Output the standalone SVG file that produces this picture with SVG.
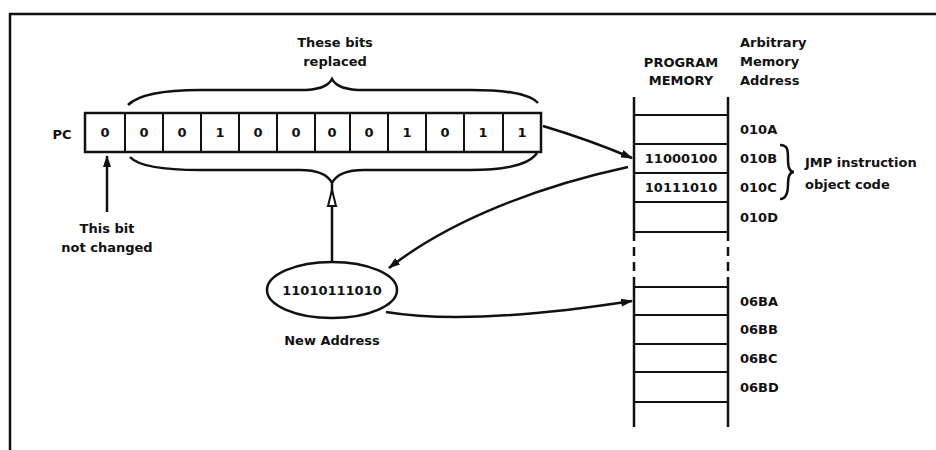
<svg xmlns="http://www.w3.org/2000/svg" width="936" height="450" viewBox="0 0 936 450">
<defs>
<style>
.t{font-family:"DejaVu Sans","Liberation Sans",sans-serif;font-size:13px;font-weight:bold;fill:#111}
.c{text-anchor:middle}
.ln{stroke:#111;stroke-width:2.5;fill:none}
.th{stroke:#111;stroke-width:2;fill:none}
.bx{fill:#fff;stroke:#111;stroke-width:2.5}
</style>
<marker id="ah" viewBox="0 0 12 8" refX="11" refY="4" markerWidth="12" markerHeight="8" markerUnits="userSpaceOnUse" orient="auto">
<path d="M0,0 L12,4 L0,8 Z" fill="#111"/>
</marker>
</defs>
<rect width="936" height="450" fill="#fff"/>
<!-- frame -->
<path d="M10,450 L10,14 L936,14" class="ln"/>

<g id="pc-register">
<text x="62" y="139" class="t c">PC</text>
<rect x="85" y="113" width="456" height="39" class="bx"/>
<g class="th">
<line x1="125" y1="113" x2="125" y2="152"/>
<line x1="163" y1="113" x2="163" y2="152"/>
<line x1="201" y1="113" x2="201" y2="152"/>
<line x1="239" y1="113" x2="239" y2="152"/>
<line x1="277" y1="113" x2="277" y2="152"/>
<line x1="315" y1="113" x2="315" y2="152"/>
<line x1="350" y1="113" x2="350" y2="152"/>
<line x1="388" y1="113" x2="388" y2="152"/>
<line x1="426" y1="113" x2="426" y2="152"/>
<line x1="464" y1="113" x2="464" y2="152"/>
<line x1="503" y1="113" x2="503" y2="152"/>
</g>
<g class="t c">
<text x="105" y="137">0</text>
<text x="144" y="137">0</text>
<text x="182" y="137">0</text>
<text x="220" y="137">1</text>
<text x="258" y="137">0</text>
<text x="296" y="137">0</text>
<text x="332" y="137">0</text>
<text x="369" y="137">0</text>
<text x="407" y="137">1</text>
<text x="445" y="137">0</text>
<text x="483" y="137">1</text>
<text x="522" y="137">1</text>
</g>
</g>

<g id="braces">
<path class="ln" d="M128,105 C140,93 170,90 200,90 L300,90 C318,90 328,87 332,79 C336,87 346,90 364,90 L470,90 C500,90 528,92 538,103"/>
<path class="ln" d="M130,157 C140,168 170,170 200,170 L300,170 C318,170 328,175 332,183 C336,175 346,170 364,170 L470,170 C500,170 528,166 537,153"/>
<text x="335" y="47" class="t c">These bits</text>
<text x="335" y="66" class="t c">replaced</text>
</g>

<g id="unchanged-note">
<text x="107" y="233" class="t c">This bit</text>
<text x="107" y="252" class="t c">not changed</text>
</g>

<g id="new-address">
<ellipse cx="332" cy="290" rx="65" ry="28" class="bx"/>
<text x="332" y="295" class="t c">11010111010</text>
<text x="332" y="345" class="t c">New Address</text>
</g>

<g id="program-memory">
<text x="681" y="67" class="t c">PROGRAM</text>
<text x="681" y="85" class="t c">MEMORY</text>
<text x="740" y="47" class="t">Arbitrary</text>
<text x="740" y="66" class="t">Memory</text>
<text x="740" y="85" class="t">Address</text>
<g class="ln">
<line x1="634" y1="97" x2="634" y2="232"/>
<line x1="728" y1="97" x2="728" y2="232"/>
<line x1="634" y1="232" x2="634" y2="283" stroke-dasharray="9,6"/>
<line x1="728" y1="232" x2="728" y2="283" stroke-dasharray="9,6"/>
<line x1="634" y1="283" x2="634" y2="427"/>
<line x1="728" y1="283" x2="728" y2="427"/>
</g>
<g class="th">
<line x1="634" y1="115" x2="728" y2="115"/>
<line x1="634" y1="144" x2="728" y2="144"/>
<line x1="634" y1="173" x2="728" y2="173"/>
<line x1="634" y1="202" x2="728" y2="202"/>
<line x1="634" y1="232" x2="728" y2="232"/>
<line x1="634" y1="287" x2="728" y2="287"/>
<line x1="634" y1="315" x2="728" y2="315"/>
<line x1="634" y1="344" x2="728" y2="344"/>
<line x1="634" y1="372" x2="728" y2="372"/>
<line x1="634" y1="402" x2="728" y2="402"/>
</g>
<text x="681" y="163" class="t c">11000100</text>
<text x="681" y="192" class="t c">10111010</text>
<g class="t">
<text x="740" y="134">010A</text>
<text x="740" y="163">010B</text>
<text x="740" y="192">010C</text>
<text x="740" y="222">010D</text>
<text x="740" y="306">06BA</text>
<text x="740" y="334">06BB</text>
<text x="740" y="363">06BC</text>
<text x="740" y="392">06BD</text>
</g>
<path class="ln" d="M780,145 C788,145 788,150 788,160 C788,168 790,172 794,172 C790,172 788,176 788,184 C788,194 786,199 780,199"/>
<text x="805" y="167" class="t">JMP instruction</text>
<text x="805" y="189" class="t">object code</text>
</g>

<g id="connectors">
<line x1="107" y1="212" x2="107" y2="156" class="ln" marker-end="url(#ah)"/>
<line x1="332" y1="262" x2="332" y2="184" class="ln"/>
<path d="M328,206 L332,190 L336,206 Z" fill="#fff" stroke="#111" stroke-width="2"/>
<path d="M543,126 Q590,140 632,158" class="ln" marker-end="url(#ah)"/>
<path d="M628,167 C540,186 450,220 389,268" class="ln" marker-end="url(#ah)"/>
<path d="M386,312 Q470,326 632,301" class="ln" marker-end="url(#ah)"/>
</g>
</svg>
